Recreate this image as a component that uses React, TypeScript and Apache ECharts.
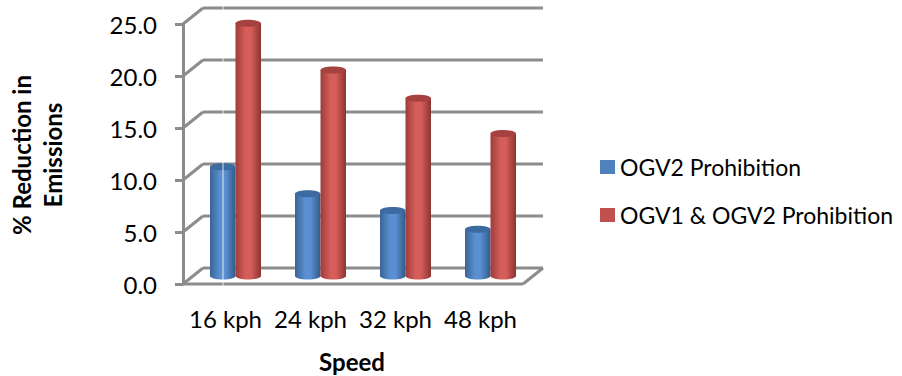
import React, { useEffect, useRef } from "react";
import * as echarts from "echarts";

const categories = ["16 kph", "24 kph", "32 kph", "48 kph"];
const seriesNames = ["OGV2 Prohibition", "OGV1 & OGV2 Prohibition"];
const ogv2Values = [10.5, 7.9, 6.3, 4.5];
const ogv1And2Values = [24.3, 19.8, 17.1, 13.7];
const yTicks = [0, 5, 10, 15, 20, 25];
const yTitle = "% Reduction in\nEmissions";
const xTitle = "Speed";

const FONT = "Lato, 'Open Sans', sans-serif";
const FS = 24;
const LEGEND_FS = 23;
const DX = 20;
const DY = 16;
const GRID_COLOR = "#8c8c8c";

const palettes = [
  { base: "#4F81BD", top: "#3d6aa0", edgeL: "#3a6496", mid: "#5a90d2", edgeR: "#33598a" },
  { base: "#C0504D", top: "#a5413e", edgeL: "#9c3d3a", mid: "#d65e5a", edgeR: "#8c3432" },
];

function bodyGradient(p: any) {
  return new echarts.graphic.LinearGradient(0, 0, 1, 0, [
    { offset: 0, color: p.edgeL },
    { offset: 0.4, color: p.mid },
    { offset: 0.6, color: p.mid },
    { offset: 1, color: p.edgeR },
  ]);
}

function makeBarRender(side: number) {
  const p = palettes[side];
  return (params: any, api: any) => {
    const i = api.value(0);
    const v = api.value(1);
    const base = api.coord([i, 0]);
    const topP = api.coord([i, v]);
    const band = api.size([1, 0])[0];
    const w = band * 0.3;
    const x = side === 0 ? base[0] - w : base[0];
    const cx = x + w / 2;
    const ry = 3.5;
    return {
      type: "group",
      children: [
        { type: "ellipse", shape: { cx, cy: base[1], rx: w / 2, ry }, style: { fill: bodyGradient(p) } },
        { type: "rect", shape: { x, y: topP[1], width: w, height: base[1] - topP[1] }, style: { fill: bodyGradient(p) } },
        { type: "ellipse", shape: { cx, cy: topP[1], rx: w / 2, ry }, style: { fill: p.top } },
      ],
    };
  };
}

function frameRender(params: any, api: any) {
  const cs = params.coordSys;
  const v = api.value(1);
  const y = api.coord([0, v])[1];
  const x0 = cs.x;
  const x1 = cs.x + cs.width;
  const st = { stroke: GRID_COLOR, lineWidth: 3 };
  const children: any[] = [
    { type: "line", shape: { x1: x0, y1: y, x2: x0 + DX, y2: y - DY }, style: st },
    { type: "line", shape: { x1: x0 + DX, y1: y - DY, x2: x1 + DX, y2: y - DY }, style: st },
  ];
  if (v === 0) {
    children.push({ type: "line", shape: { x1: x0, y1: y, x2: x1, y2: y }, style: st });
    children.push({ type: "line", shape: { x1: x1, y1: y, x2: x1 + DX, y2: y - DY }, style: st });
  }
  return { type: "group", children };
}

export default function App() {
  const ref = useRef<HTMLDivElement>(null);
  useEffect(() => {
    document.body.style.margin = "0";
    if (!ref.current) return;
    const chart = echarts.init(ref.current, undefined, { renderer: "svg" });
    chart.setOption({
      animation: false,
      backgroundColor: "#ffffff",
      textStyle: { fontFamily: FONT },
      legend: {
        orient: "vertical",
        left: 595,
        top: 150,
        itemWidth: 15,
        itemHeight: 14,
        itemGap: 24,
        icon: "rect",
        data: seriesNames,
        textStyle: { fontSize: LEGEND_FS, color: "#000", fontFamily: FONT, lineHeight: 24 },
      },
      grid: [
        { left: 183, top: 24, width: 340, height: 260 },
        { left: 193, top: 16, width: 340, height: 260 },
      ],
      xAxis: [
        {
          gridIndex: 0,
          type: "category",
          data: categories,
          axisLine: { show: false },
          axisTick: { show: false },
          axisLabel: { fontSize: FS, color: "#000", margin: 22, fontFamily: FONT, interval: 0, hideOverlap: false },
        },
        { gridIndex: 1, type: "category", data: categories, show: false },
      ],
      yAxis: [
        {
          gridIndex: 0,
          type: "value",
          min: 0,
          max: 25,
          interval: 5,
          axisLine: { show: true, lineStyle: { color: GRID_COLOR, width: 3 } },
          axisTick: { show: true, length: 8, lineStyle: { color: GRID_COLOR, width: 3 } },
          splitLine: { show: false },
          axisLabel: { fontSize: FS, color: "#000", margin: 26, fontFamily: FONT, formatter: (v: number) => v.toFixed(1) },
        },
        { gridIndex: 1, type: "value", min: 0, max: 25, interval: 5, show: false, splitLine: { show: false } },
      ],
      graphic: [
        {
          type: "text",
          x: 37,
          y: 155,
          rotation: Math.PI / 2,
          style: {
            text: yTitle,
            fontSize: FS,
            fontWeight: "bold",
            fontFamily: FONT,
            fill: "#000",
            align: "center",
            verticalAlign: "middle",
            lineHeight: 31,
          },
        },
        {
          type: "text",
          x: 352,
          y: 361,
          style: {
            text: xTitle,
            fontSize: FS,
            fontWeight: "bold",
            fontFamily: FONT,
            fill: "#000",
            align: "center",
            verticalAlign: "middle",
          },
        },
        {
          type: "line",
          z: 100,
          shape: { x1: 223, y1: 5, x2: 223, y2: 288 },
          style: { stroke: "#ffffff", lineWidth: 1, opacity: 0.8 },
        },
      ],
      series: [
        {
          type: "custom",
          name: "frame",
          xAxisIndex: 0,
          yAxisIndex: 0,
          z: 1,
          silent: true,
          data: yTicks.map((v) => [0, v]),
          renderItem: frameRender,
        },
        {
          type: "custom",
          name: seriesNames[0],
          xAxisIndex: 1,
          yAxisIndex: 1,
          z: 3,
          itemStyle: { color: palettes[0].base },
          data: ogv2Values.map((v, i) => [i, v]),
          renderItem: makeBarRender(0),
        },
        {
          type: "custom",
          name: seriesNames[1],
          xAxisIndex: 1,
          yAxisIndex: 1,
          z: 3,
          itemStyle: { color: palettes[1].base },
          data: ogv1And2Values.map((v, i) => [i, v]),
          renderItem: makeBarRender(1),
        },
      ],
    });
    return () => chart.dispose();
  }, []);
  return <div ref={ref} style={{ width: 902, height: 376 }} />;
}
